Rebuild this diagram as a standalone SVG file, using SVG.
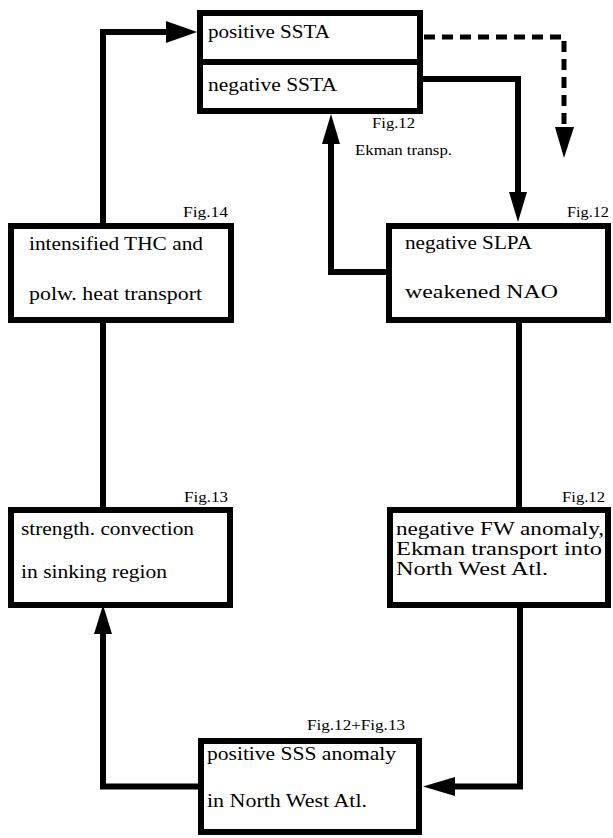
<svg xmlns="http://www.w3.org/2000/svg" width="613" height="838" viewBox="0 0 613 838">
<style>
text{font-family:'Liberation Serif','Times New Roman',serif;fill:#000}
.box{fill:#fff;stroke:#000;stroke-width:6}
.t{font-size:18px}
.f{font-size:15px}
.s{font-size:14px}
.c{fill:none;stroke:#000;stroke-width:6;stroke-linejoin:miter}
.d{fill:none;stroke:#000;stroke-width:5;stroke-dasharray:11 7}
.h{fill:#000;stroke:none}
</style>
<rect width="613" height="838" fill="#fff"/>
<g id="connectors">
<polyline class="c" points="198,786.5 103,786.5 103,632"/>
<polygon class="h" points="103,605 94,634 112,634"/>
<line class="c" x1="103" y1="507" x2="103" y2="323"/>
<polyline class="c" points="103,223 103,32 168,32"/>
<polygon class="h" points="197,32 166,21 166,43"/>
<polyline class="d" points="424,37 564,37 564,128"/>
<polygon class="h" points="564,158 555,127 574,127"/>
<polyline class="c" points="423,79 518,79 518,194"/>
<polygon class="h" points="518,222 509,192 527,192"/>
<polyline class="c" points="386,272 331,272 331,142"/>
<polygon class="h" points="331,114 322,144 340,144"/>
<line class="c" x1="519" y1="323" x2="519" y2="507"/>
<polyline class="c" points="520,608 520,786.5 453,786.5"/>
<polygon class="h" points="423,786.5 455,777 455,796"/>
</g>
<g id="ssta">
<rect class="box" x="200" y="13" width="220" height="98"/>
<line x1="200" y1="62" x2="420" y2="62" stroke="#000" stroke-width="6"/>
<text class="t" x="208" y="38" textLength="122" lengthAdjust="spacingAndGlyphs">positive SSTA</text>
<text class="t" x="208" y="91" textLength="129" lengthAdjust="spacingAndGlyphs">negative SSTA</text>
<text class="f" x="372" y="128" textLength="43" lengthAdjust="spacingAndGlyphs">Fig.12</text>
<text class="s" x="355" y="155" textLength="97" lengthAdjust="spacingAndGlyphs">Ekman transp.</text>
</g>
<g id="thc">
<rect class="box" x="11" y="226" width="220" height="94"/>
<text class="t" x="29" y="250" textLength="174" lengthAdjust="spacingAndGlyphs">intensified THC and</text>
<text class="t" x="29" y="300" textLength="173" lengthAdjust="spacingAndGlyphs">polw. heat transport</text>
<text class="f" x="183" y="217" textLength="45" lengthAdjust="spacingAndGlyphs">Fig.14</text>
</g>
<g id="slpa">
<rect class="box" x="389" y="226" width="219" height="94"/>
<text class="t" x="405" y="249" textLength="127" lengthAdjust="spacingAndGlyphs">negative SLPA</text>
<text class="t" x="405" y="298" textLength="153" lengthAdjust="spacingAndGlyphs">weakened NAO</text>
<text class="f" x="567" y="217" textLength="42" lengthAdjust="spacingAndGlyphs">Fig.12</text>
</g>
<g id="convection">
<rect class="box" x="11" y="510" width="219" height="95"/>
<text class="t" x="21" y="535" textLength="173" lengthAdjust="spacingAndGlyphs">strength. convection</text>
<text class="t" x="21" y="578" textLength="146" lengthAdjust="spacingAndGlyphs">in sinking region</text>
<text class="f" x="184" y="502" textLength="44" lengthAdjust="spacingAndGlyphs">Fig.13</text>
</g>
<g id="fw">
<rect class="box" x="390" y="510" width="218" height="95"/>
<text class="t" x="396" y="535" textLength="208" lengthAdjust="spacingAndGlyphs">negative FW anomaly,</text>
<text class="t" x="396" y="555" textLength="206" lengthAdjust="spacingAndGlyphs">Ekman transport into</text>
<text class="t" x="396" y="575" textLength="152" lengthAdjust="spacingAndGlyphs">North West Atl.</text>
<text class="f" x="562" y="502" textLength="43" lengthAdjust="spacingAndGlyphs">Fig.12</text>
</g>
<g id="sss">
<rect class="box" x="201" y="741" width="218" height="91"/>
<text class="t" x="207" y="760" textLength="189" lengthAdjust="spacingAndGlyphs">positive SSS anomaly</text>
<text class="t" x="207" y="807" textLength="160" lengthAdjust="spacingAndGlyphs">in North West Atl.</text>
<text class="f" x="307" y="730" textLength="98" lengthAdjust="spacingAndGlyphs">Fig.12+Fig.13</text>
</g>
</svg>
